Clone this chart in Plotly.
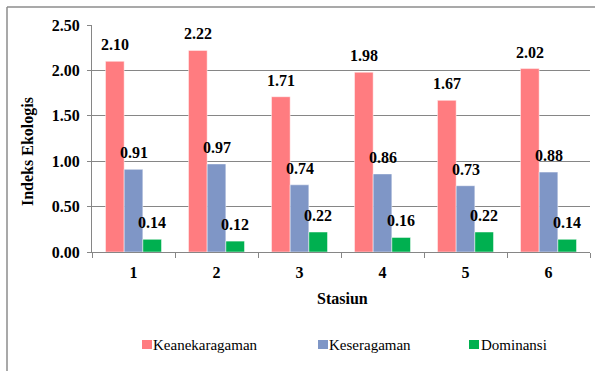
import plotly.graph_objects as go

# Station labels and ecological index values
stations = ["1", "2", "3", "4", "5", "6"]
keanekaragaman = [2.10, 2.22, 1.71, 1.98, 1.67, 2.02]
keseragaman = [0.91, 0.97, 0.74, 0.86, 0.73, 0.88]
dominansi = [0.14, 0.12, 0.22, 0.16, 0.22, 0.14]

series_names = ["Keanekaragaman", "Keseragaman", "Dominansi"]
series_values = [keanekaragaman, keseragaman, dominansi]
series_colors = ["#FF7C80", "#7F96C6", "#00B050"]

y_ticks = [0.0, 0.5, 1.0, 1.5, 2.0, 2.5]

W, H = 595, 371
ML, MR, MT, MB = 92, 5, 25, 119
PW, PH = W - ML - MR, H - MT - MB
BARGAP = 0.325

FONT = "Liberation Serif"


def px_x(p):
    return (p - ML) / PW


def px_y(p):
    return (H - MB - p) / PH


fig = go.Figure()
for name, vals, col in zip(series_names, series_values, series_colors):
    fig.add_trace(go.Bar(
        x=stations, y=vals, name=name,
        marker=dict(color=col, line=dict(color="rgba(255,255,255,0.6)", width=0.8)),
        showlegend=False,
    ))

# value labels above each bar
bar_px = PW / len(stations) * (1 - BARGAP) / 3
annotations = []
for i, vals in enumerate(series_values):
    off = (i - 1) * bar_px
    for k, v in enumerate(vals):
        annotations.append(dict(
            x=k, y=v, xref="x", yref="y", text=f"<b>{v:.2f}</b>",
            showarrow=False, xanchor="center", yanchor="bottom",
            xshift=off, yshift=6,
            font=dict(family=FONT, size=16, color="black"),
        ))

# axis titles
annotations.append(dict(
    x=px_x(342), y=px_y(298), xref="paper", yref="paper",
    text="<b>Stasiun</b>", showarrow=False, xanchor="center", yanchor="middle",
    font=dict(family=FONT, size=16, color="black"),
))
annotations.append(dict(
    x=px_x(28), y=px_y(152), xref="paper", yref="paper",
    text="<b>Indeks Ekologis</b>", showarrow=False, textangle=-90,
    xanchor="center", yanchor="middle",
    font=dict(family=FONT, size=16, color="black"),
))

# legend drawn as swatches plus labels
legend_items = [(142, 153), (318, 329), (469, 481)]
shapes = []
for (sx, tx), name, col in zip(legend_items, series_names, series_colors):
    shapes.append(dict(
        type="rect", xref="paper", yref="paper",
        x0=px_x(sx), x1=px_x(sx + 10), y0=px_y(349), y1=px_y(340),
        fillcolor=col, line=dict(width=0),
    ))
    annotations.append(dict(
        x=px_x(tx - 2), y=px_y(345), xref="paper", yref="paper",
        text=name, showarrow=False, xanchor="left", yanchor="middle",
        font=dict(family=FONT, size=15, color="black"),
    ))

# outer frame (left and top edges)
shapes.append(dict(type="line", xref="paper", yref="paper",
                   x0=px_x(7), x1=px_x(7), y0=px_y(7), y1=px_y(380),
                   line=dict(color="#8C8C8C", width=1.5)))
shapes.append(dict(type="line", xref="paper", yref="paper",
                   x0=px_x(7), x1=px_x(600), y0=px_y(7), y1=px_y(7),
                   line=dict(color="#8C8C8C", width=1.5)))

fig.update_layout(
    width=W, height=H,
    margin=dict(l=ML, r=MR, t=MT, b=MB, pad=0),
    paper_bgcolor="white", plot_bgcolor="white",
    barmode="group", bargap=BARGAP, bargroupgap=0,
    annotations=annotations, shapes=shapes,
    font=dict(family=FONT, size=16, color="black"),
    xaxis=dict(
        type="category", tickson="boundaries", ticks="outside", ticklen=5,
        tickcolor="#868686", showline=True, linecolor="#868686", linewidth=1,
        tickfont=dict(family=FONT, size=16, color="black"),
        tickprefix="<b>", ticksuffix="</b>", ticklabelstandoff=6,
        showgrid=False,
    ),
    yaxis=dict(
        range=[0, 2.5], tickvals=y_ticks, ticktext=[f"<b>{t:.2f}</b>" for t in y_ticks],
        ticks="outside", ticklen=4, tickcolor="#868686",
        showline=True, linecolor="#868686", linewidth=1,
        showgrid=True, gridcolor="#868686", gridwidth=1,
        tickfont=dict(family=FONT, size=16, color="black"),
        ticklabelstandoff=4, zeroline=False,
    ),
)

fig.write_html("out.html")
